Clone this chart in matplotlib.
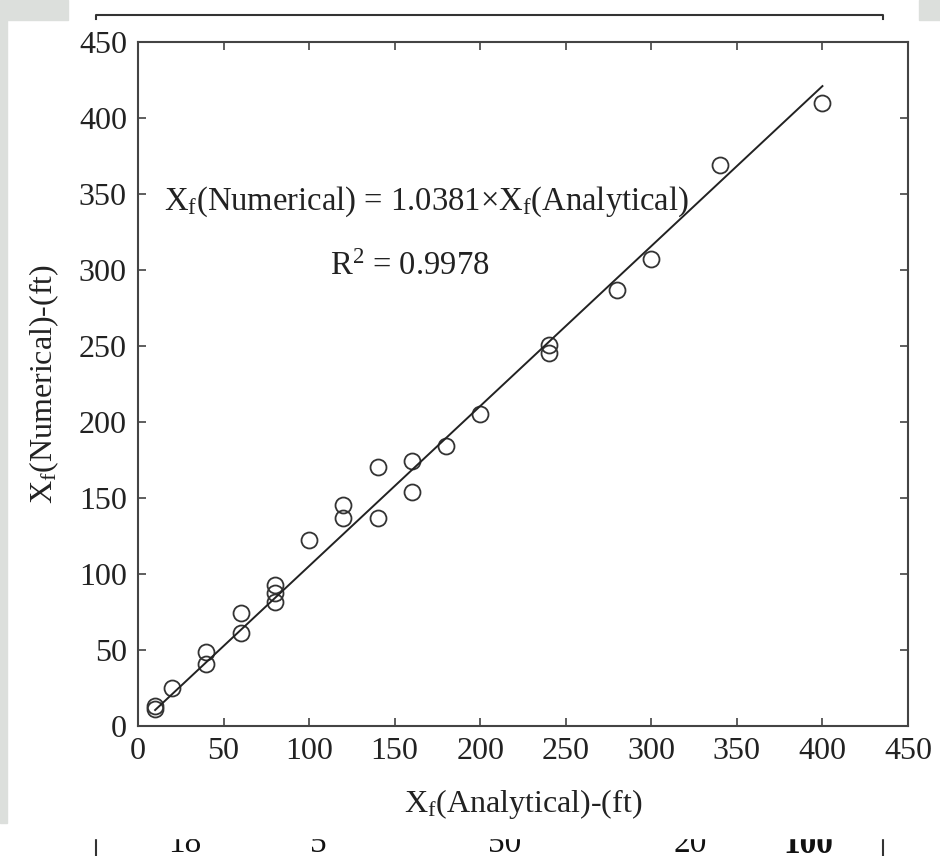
import numpy as np
import matplotlib
matplotlib.use("Agg")
import matplotlib.pyplot as plt
from matplotlib.patches import Rectangle
from matplotlib.lines import Line2D

plt.rcParams['font.family'] = ['Liberation Serif', 'DejaVu Serif']
plt.rcParams['mathtext.fontset'] = 'custom'
plt.rcParams['mathtext.rm'] = 'Liberation Serif'
plt.rcParams['mathtext.it'] = 'Liberation Serif:italic'

# valores
x_analitico = [10, 10, 20, 40, 40, 60, 60, 80, 80, 80, 100, 120, 120, 140, 140,
               160, 160, 180, 200, 240, 240, 280, 300, 340, 400]
x_numerico = [11, 13, 25, 49, 40.5, 74.5, 61, 92.5, 87.5, 81.5, 122.5, 145.5, 137,
              170.5, 137, 174.5, 154, 184.5, 205, 250.5, 245.5, 287, 307.5, 369, 410]
# reta de ajuste como aparece desenhada
reta_x = [10, 400]
reta_y = [10.5, 421]
inclinacao = 1.0381
r2 = 0.9978
ticks = [0, 50, 100, 150, 200, 250, 300, 350, 400, 450]
numeros_tabela = ['18', '5', '50', '20', '100']

W, H = 940, 856
fig = plt.figure(figsize=(W / 100, H / 100), dpi=100)
fig.patch.set_facecolor('white')

cinza = '#dcdfdc'
for (x0, y0, x1, y1) in [(0, 0, 68, 20), (919, 0, 940, 20), (0, 20, 7, 823)]:
    fig.patches.append(Rectangle((x0 / W, 1 - y1 / H), (x1 - x0) / W, (y1 - y0) / H,
                                 transform=fig.transFigure, color=cinza, zorder=0))

# restos da tabela da pagina (aparecem cortados na imagem original)
traco = '#333333'
for xs, ys in [([96, 96, 883, 883], [19, 15, 15, 19]),
               ([96, 96], [830, 856]), ([883, 883], [830, 856])]:
    fig.lines.append(Line2D([x / W for x in xs], [1 - y / H for y in ys],
                            transform=fig.transFigure, color=traco, lw=1.5, zorder=1))
for xt, t in zip([185, 318, 505, 690, 808], numeros_tabela):
    fig.text(xt / W, 1 - 829 / H, t, ha='center', va='top', fontsize=24,
             fontweight='bold' if t == '100' else 'normal', color='#111111', zorder=1)
fig.patches.append(Rectangle((0.02, 1 - 838 / H), 0.96, 20 / H,
                             transform=fig.transFigure, color='white', zorder=2))

ax = fig.add_axes([138 / W, 1 - 726 / H, 770 / W, 684 / H])
ax.set_zorder(3)
ax.patch.set_alpha(0)

ax.plot(x_analitico, x_numerico, 'o', ms=11.5, mfc='none', mec='#333333', mew=1.3)
ax.plot(reta_x, reta_y, color='#222222', lw=1.4)

ax.set_xlim(0, 450)
ax.set_ylim(0, 450)
ax.set_xticks(ticks)
ax.set_yticks(ticks)
ax.tick_params(direction='in', length=6, width=1.1, top=True, right=True,
               labelsize=23, colors='#333333', pad=8)
ax.tick_params(labelcolor='#222222')
for s in ax.spines.values():
    s.set_color('#444444')
    s.set_linewidth(1.5)

ax.set_xlabel(r'X$_\mathrm{f}$(Analytical)-(ft)', fontsize=23, color='#222222', labelpad=15)
ax.set_ylabel(r'X$_\mathrm{f}$(Numerical)-(ft)', fontsize=23, color='#222222', labelpad=13)

ax.text(15, 345, r'X$_\mathrm{f}$(Numerical) = %.4f$\times$X$_\mathrm{f}$(Analytical)' % inclinacao,
        fontsize=23.5, color='#222222', va='center')
ax.text(112, 302, r'R$^2$ = %.4f' % r2, fontsize=23.5, color='#222222', va='center')

fig.savefig('out.png', dpi=100)
